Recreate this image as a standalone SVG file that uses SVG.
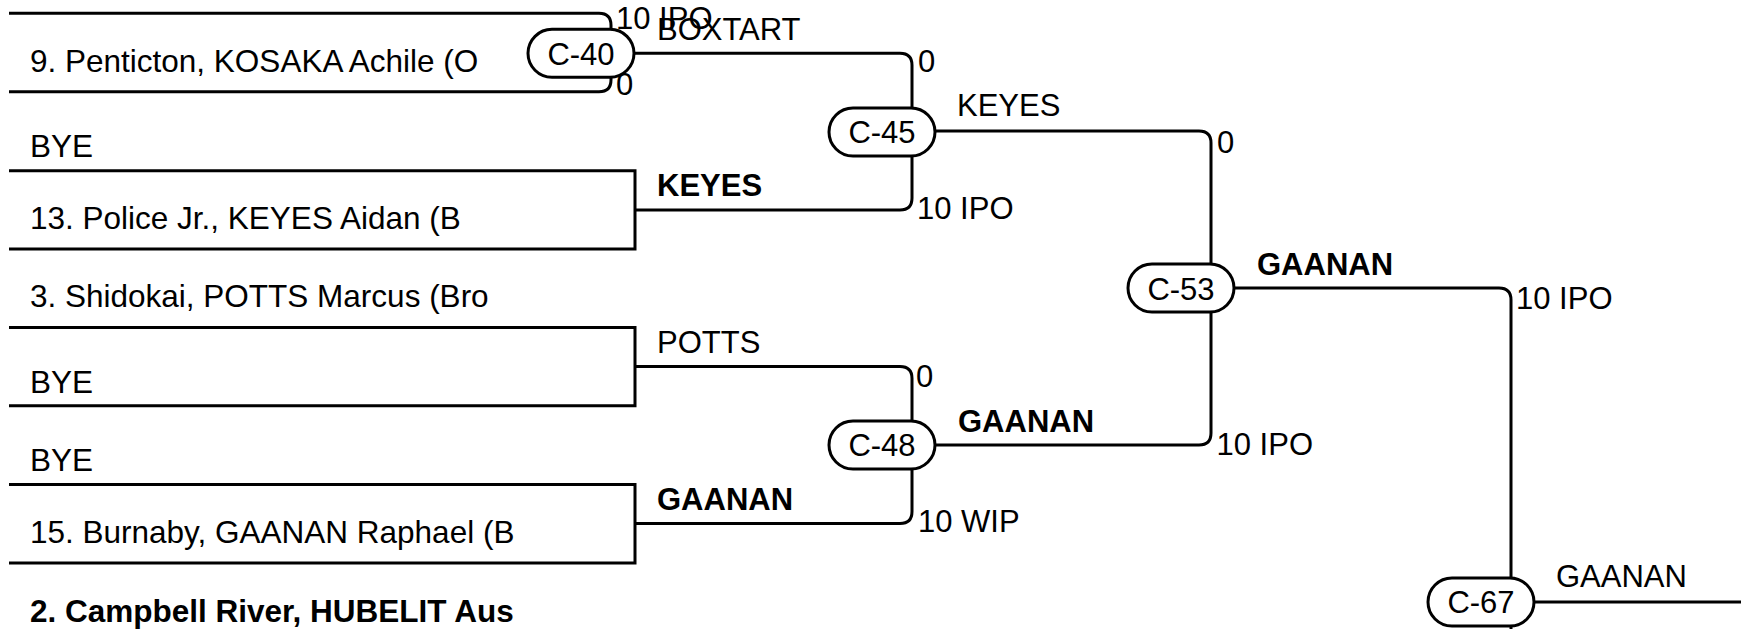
<svg xmlns="http://www.w3.org/2000/svg" width="1741" height="629" viewBox="0 0 1741 629">
<style>
text{font-family:"Liberation Sans",Arial,sans-serif;font-size:31px;fill:#000}
.n{font-size:31.5px}
.b{font-weight:bold}
.m{text-anchor:middle}
.ln{fill:none;stroke:#000;stroke-width:3}
.pill{fill:#fff;stroke:#000;stroke-width:3}
</style>
<rect width="1741" height="629" fill="#fff"/>
<g id="connectors" class="ln">
<path d="M9,13.3 H599 Q611,13.3 611,25.3 V29.3"/>
<path d="M9,91.7 H599 Q611,91.7 611,79.7 V77.3"/>
<path d="M634,53.3 H900 Q912,53.3 912,65.3 V108"/>
<path d="M9,170.7 H635 V249 H9"/>
<path d="M635,210 H900 Q912,210 912,198 V156"/>
<path d="M935,131 H1199 Q1211,131 1211,143 V264"/>
<path d="M9,327.5 H635 V405.7 H9"/>
<path d="M635,366.6 H900 Q912,366.6 912,378.6 V421"/>
<path d="M9,484.5 H635 V563 H9"/>
<path d="M635,523.5 H900 Q912,523.5 912,511.5 V469"/>
<path d="M935,445 H1199 Q1211,445 1211,433 V312"/>
<path d="M1234,288 H1499 Q1511,288 1511,300 V578"/>
<path d="M1534,602 H1741"/>
<path d="M1511,626 V640"/>
</g>
<g id="entrants">
<text class="n" x="30" y="72">9. Penticton, KOSAKA Achile (O</text>
<text class="n" x="30" y="157">BYE</text>
<text class="n" x="30" y="228.5">13. Police Jr., KEYES Aidan (B</text>
<text class="n" x="30" y="307">3. Shidokai, POTTS Marcus (Bro</text>
<text class="n" x="30" y="392.5">BYE</text>
<text class="n" x="30" y="471">BYE</text>
<text class="n" x="30" y="542.5">15. Burnaby, GAANAN Raphael (B</text>
<text class="n b" x="30" y="621.7">2. Campbell River, HUBELIT Aus</text>
</g>
<g id="C-40"><rect class="pill" x="528" y="29.3" width="106" height="48" rx="24"/><text class="m" x="581" y="64.5">C-40</text></g>
<g id="C-45"><rect class="pill" x="829" y="108" width="106" height="48" rx="24"/><text class="m" x="882" y="142.5">C-45</text></g>
<g id="C-48"><rect class="pill" x="829" y="421" width="106" height="48" rx="24"/><text class="m" x="882" y="456">C-48</text></g>
<g id="C-53"><rect class="pill" x="1128" y="264" width="106" height="48" rx="24"/><text class="m" x="1181" y="299.5">C-53</text></g>
<g id="C-67"><rect class="pill" x="1428" y="578" width="106" height="48" rx="24"/><text class="m" x="1481" y="613">C-67</text></g>
<g id="labels">
<text x="616" y="29.3">10 IPO</text>
<text x="616" y="95">0</text>
<text x="657" y="40">BOXTART</text>
<text x="657" y="196" class="b">KEYES</text>
<text x="918" y="71.7">0</text>
<text x="917" y="219">10 IPO</text>
<text x="957" y="116">KEYES</text>
<text x="657" y="352.7">POTTS</text>
<text x="916" y="386.7">0</text>
<text x="657" y="510" class="b">GAANAN</text>
<text x="918" y="532.3">10 WIP</text>
<text x="958" y="431.7" class="b">GAANAN</text>
<text x="1217" y="153.3">0</text>
<text x="1216.5" y="455">10 IPO</text>
<text x="1257" y="275" class="b">GAANAN</text>
<text x="1516" y="309">10 IPO</text>
<text x="1556" y="587.3">GAANAN</text>
</g>
</svg>
